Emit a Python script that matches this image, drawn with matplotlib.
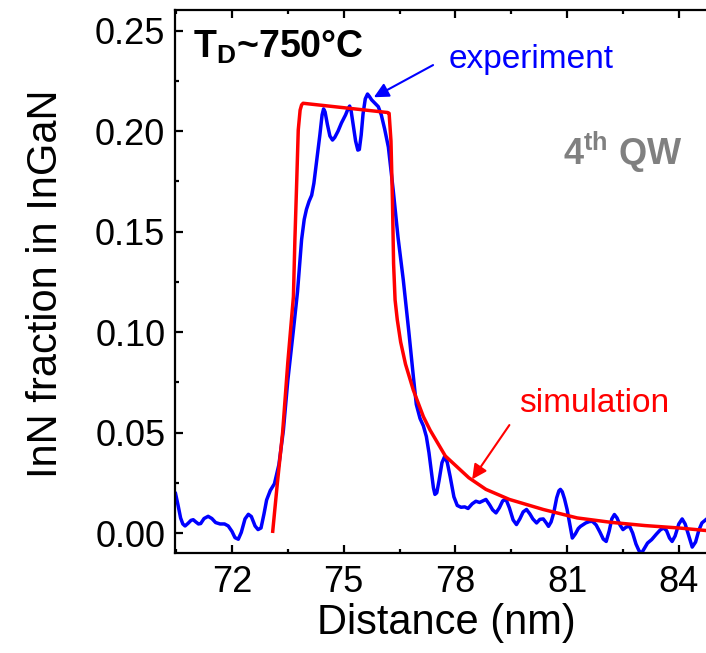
import matplotlib
matplotlib.use("Agg")
import matplotlib.pyplot as plt
from matplotlib.ticker import MultipleLocator, FormatStrFormatter

plt.rcParams['font.family'] = ['Liberation Sans', 'DejaVu Sans']
plt.rcParams['mathtext.fontset'] = 'custom'
plt.rcParams['mathtext.rm'] = 'Liberation Sans'
plt.rcParams['mathtext.bf'] = 'Liberation Sans:bold'
plt.rcParams['mathtext.it'] = 'Liberation Sans:italic'

# experiment (blue)
exp_x = [70.48, 70.55, 70.62, 70.68, 70.74, 70.82, 70.90, 70.96, 71.03, 71.10,
         71.16, 71.25, 71.36, 71.46, 71.56, 71.68, 71.80, 71.90, 72.00, 72.08,
         72.17, 72.25, 72.35, 72.44, 72.52, 72.62, 72.70, 72.78, 72.86, 72.93,
         73.03, 73.14, 73.26, 73.38, 73.50, 73.65, 73.76, 73.87, 73.94, 74.00,
         74.07, 74.14, 74.20, 74.28, 74.36, 74.42, 74.46, 74.50, 74.56, 74.63,
         74.70, 74.76, 74.85, 74.94, 75.05, 75.12, 75.16, 75.20, 75.26, 75.32,
         75.38, 75.42, 75.47, 75.52, 75.58, 75.64, 75.69, 75.75, 75.83, 75.93,
         76.01, 76.10, 76.20, 76.33, 76.46, 76.60, 76.75, 76.87, 76.95, 77.05,
         77.14, 77.22, 77.29, 77.36, 77.41, 77.45, 77.50, 77.56, 77.64, 77.71,
         77.78, 77.86, 77.96, 78.05, 78.15, 78.25, 78.34, 78.45, 78.55, 78.65,
         78.74, 78.82, 78.92, 79.00, 79.09, 79.18, 79.27, 79.36, 79.45, 79.55,
         79.64, 79.73, 79.82, 79.91, 80.00, 80.08, 80.18, 80.27, 80.36, 80.44,
         80.50, 80.57, 80.64, 80.72, 80.78, 80.82, 80.87, 80.93, 81.00, 81.07,
         81.14, 81.22, 81.30, 81.36, 81.50, 81.60, 81.68, 81.78, 81.88, 81.97,
         82.05, 82.13, 82.20, 82.27, 82.34, 82.42, 82.50, 82.59, 82.68, 82.76,
         82.85, 82.93, 83.00, 83.08, 83.16, 83.27, 83.40, 83.50, 83.59, 83.67,
         83.75, 83.82, 83.90, 84.00, 84.09, 84.17, 84.26, 84.36, 84.45, 84.54,
         84.62, 84.75]
exp_y = [0.0200, 0.0140, 0.0075, 0.0045, 0.0035, 0.0048, 0.0063, 0.0066, 0.0055, 0.0045,
         0.0047, 0.0072, 0.0083, 0.0072, 0.0052, 0.0045, 0.0045, 0.0035, 0.0008, -0.0023,
         -0.0031, 0.0003, 0.0070, 0.0093, 0.0082, 0.0035, 0.0017, 0.0025, 0.0095, 0.0164,
         0.0212, 0.0245, 0.0340, 0.0510, 0.0760, 0.1010, 0.1200, 0.1460, 0.1560, 0.1610,
         0.1650, 0.1680, 0.1740, 0.1860, 0.1980, 0.2080, 0.2110, 0.2095, 0.2035, 0.1975,
         0.1955, 0.1968, 0.2000, 0.2040, 0.2080, 0.2112, 0.2124, 0.2100, 0.2025, 0.1950,
         0.1905, 0.1908, 0.1980, 0.2085, 0.2160, 0.2184, 0.2172, 0.2155, 0.2140, 0.2121,
         0.2080, 0.2010, 0.1920, 0.1706, 0.1470, 0.1260, 0.1000, 0.0780, 0.0640, 0.0570,
         0.0533, 0.0480, 0.0400, 0.0300, 0.0225, 0.0192, 0.0200, 0.0260, 0.0350, 0.0380,
         0.0352, 0.0280, 0.0180, 0.0137, 0.0128, 0.0130, 0.0122, 0.0145, 0.0158, 0.0152,
         0.0160, 0.0167, 0.0140, 0.0115, 0.0100, 0.0125, 0.0160, 0.0167, 0.0125, 0.0065,
         0.0042, 0.0070, 0.0105, 0.0117, 0.0095, 0.0070, 0.0050, 0.0068, 0.0070, 0.0050,
         0.0033, 0.0055, 0.0100, 0.0175, 0.0210, 0.0217, 0.0205, 0.0170, 0.0117, 0.0045,
         -0.0025, -0.0005, 0.0022, 0.0033, 0.0050, 0.0057, 0.0058, 0.0040, 0.0005, -0.0030,
         -0.0042, 0.0010, 0.0070, 0.0092, 0.0075, 0.0040, 0.0017, 0.0030, 0.0033, 0.0000,
         -0.0055, -0.0088, -0.0100, -0.0075, -0.0050, -0.0033, -0.0005, 0.0015, 0.0025, 0.0012,
         -0.0025, -0.0042, -0.0015, 0.0045, 0.0070, 0.0045, -0.0010, -0.0070, -0.0045, 0.0015,
         0.0050, 0.0070]

# simulation (red)
sim_x = [73.09, 73.22, 73.36, 73.50, 73.65, 73.69, 73.74, 73.78, 73.83, 73.87, 73.91,
         76.18, 76.22, 76.27, 76.31, 76.34, 76.38, 76.44, 76.53, 76.66, 76.87, 77.14,
         77.32, 77.73, 78.36, 78.82, 79.45, 80.36, 81.27, 82.18, 83.09, 84.00, 84.75]
sim_y = [0.0000, 0.0250, 0.0500, 0.0850, 0.1176, 0.1460, 0.1756, 0.2005, 0.2104, 0.2130, 0.2138,
         0.2092, 0.2088, 0.1950, 0.1650, 0.1340, 0.1160, 0.1060, 0.0950, 0.0840, 0.0711, 0.0579,
         0.0512, 0.0383, 0.0275, 0.0217, 0.0167, 0.0117, 0.0075, 0.0053, 0.0037, 0.0025, 0.0012]

xticks = [72, 75, 78, 81, 84]
yticks = [0.00, 0.05, 0.10, 0.15, 0.20, 0.25]

fig = plt.figure(figsize=(7.06, 6.53), dpi=100)
ax = fig.add_axes([175/706, 1-553/653, 1-175/706, (553-10)/653])

ax.plot(exp_x, exp_y, color='#0000FF', lw=2.5, solid_joinstyle='round',
        solid_capstyle='round', zorder=2)
ax.plot(sim_x, sim_y, color='#FF0000', lw=2.5, solid_joinstyle='round',
        solid_capstyle='butt', zorder=3)

ax.set_xlim(70.47, 84.73)
ax.set_ylim(-0.00995, 0.2602)
ax.set_xticks(xticks)
ax.set_yticks(yticks)
ax.xaxis.set_minor_locator(MultipleLocator(1.5))
ax.yaxis.set_minor_locator(MultipleLocator(0.025))
ax.yaxis.set_major_formatter(FormatStrFormatter('%.2f'))

for s in ['left', 'bottom', 'top']:
    ax.spines[s].set_linewidth(1.6)
ax.spines['right'].set_visible(False)
ax.tick_params(which='both', direction='in', top=True, right=False, width=1.6)
ax.tick_params(which='major', length=6, labelsize=26, pad=7)
ax.tick_params(which='minor', length=3)
ax.tick_params(axis='x', which='major', pad=9)

ax.set_xlabel('Distance (nm)', fontsize=30)
ax.xaxis.set_label_coords(0.512, -0.093)
ax.set_ylabel('InN fraction in InGaN', fontsize=30)
ax.yaxis.set_label_coords(-0.205, 0.495)

ax.text(70.95, 0.2363, r'$\mathbf{T_D}$~750°C', fontsize=27, fontweight='bold',
        color='black', ha='left', va='baseline')
ax.text(77.83, 0.2313, 'experiment', fontsize=24, color='#0000FF', ha='left', va='baseline')
ax.text(79.70, 0.0604, 'simulation', fontsize=24, color='#FF0000', ha='left', va='baseline')
ax.text(80.89, 0.1830, r'4$^{\mathbf{th}}$ QW', fontsize=26, fontweight='bold',
        color='#808080', ha='left', va='baseline')

ax.annotate('', xy=(75.81, 0.2168), xytext=(77.40, 0.2328),
            arrowprops=dict(arrowstyle='-|>', color='#0000FF', lw=1.5,
                            mutation_scale=22, shrinkA=0, shrinkB=0))
ax.annotate('', xy=(78.45, 0.0267), xytext=(79.45, 0.0537),
            arrowprops=dict(arrowstyle='-|>', color='#FF0000', lw=1.5,
                            mutation_scale=22, shrinkA=0, shrinkB=0))

fig.savefig('out.png', dpi=100)
